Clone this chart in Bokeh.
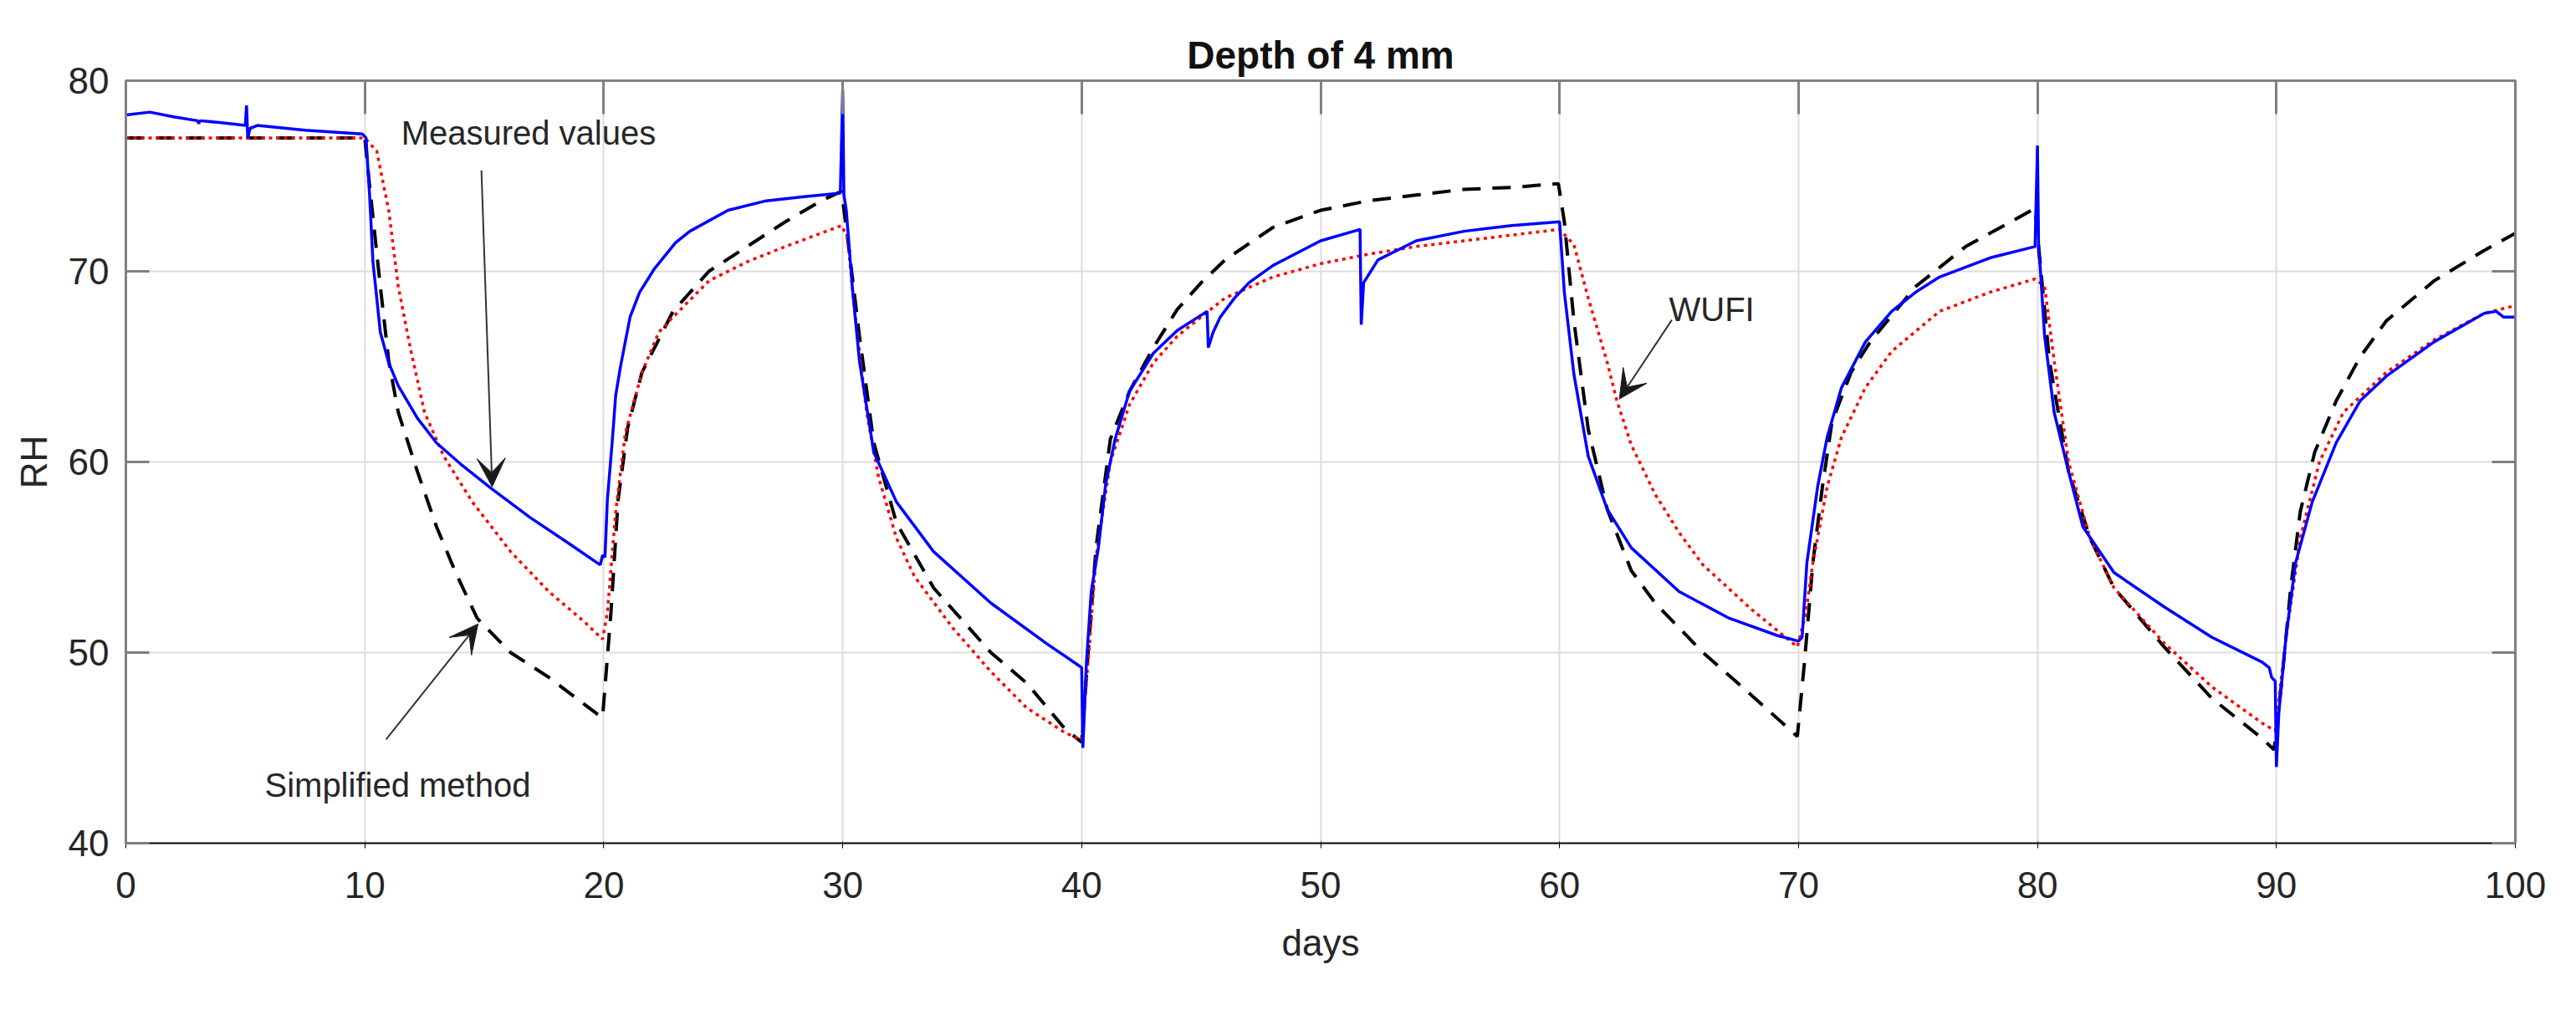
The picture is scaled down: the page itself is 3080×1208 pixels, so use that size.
from bokeh.plotting import figure
from bokeh.models import Range1d, LinearAxis, FixedTicker, Arrow, VeeHead, Label
from bokeh.embed import file_html
from bokeh.resources import INLINE

# ---------------- data ----------------
measured_days = [0, 1.0, 2.0, 3.0, 3.05, 3.1, 4.0, 5.0, 5.05, 5.1, 5.2, 5.5, 7.5, 9.9,
                 10.05, 10.2, 10.34, 10.65, 11.0, 11.4, 12.2, 13.0, 14.0, 15.3, 16.9, 18.45, 19.85,
                 19.95, 20.05, 20.15, 20.35, 20.5, 20.7, 21.1, 21.5, 22.1, 23.0, 23.6, 25.2, 26.8,
                 28.3, 29.9, 30.0, 30.05, 30.15, 30.4, 30.7, 31.3, 32.25, 33.8, 36.2, 38.5, 39.9,
                 40.0, 40.05, 40.1, 40.2, 40.4, 40.7, 41.0, 41.4, 42.0, 43.0, 44.0, 45.25, 45.3,
                 45.5, 45.8, 46.4, 47.0, 48.0, 50.0, 51.65, 51.7, 51.8, 52.4, 54.0, 56.0, 58.0,
                 60.0, 60.2, 60.6, 61.2, 62.0, 63.0, 65.0, 67.1, 69.1, 70.0, 70.15, 70.35, 70.8,
                 71.2, 71.8, 72.8, 73.9, 74.9, 75.9, 78.0, 79.9, 80.0, 80.05, 80.1, 80.3, 80.7,
                 81.3, 81.9, 83.2, 85.3, 87.3, 89.4, 89.7, 89.8, 89.95, 90.0, 90.1, 90.4, 90.8,
                 91.5, 92.5, 93.5, 94.6, 96.6, 98.7, 99.2, 99.5, 100.0]
measured_rh = [78.2, 78.35, 78.1, 77.9, 77.75, 77.9, 77.8, 77.65, 78.7, 77.0, 77.5, 77.65, 77.4, 77.2,
               77.0, 74.0, 70.5, 66.8, 65.2, 64.0, 62.3, 61.0, 59.9, 58.6, 57.1, 55.8, 54.6,
               55.1, 55.0, 58.0, 61.0, 63.5, 65.0, 67.6, 68.9, 70.1, 71.5, 72.1, 73.2, 73.7,
               73.9, 74.1, 79.5, 74.0, 73.2, 69.2, 65.3, 60.5, 57.9, 55.3, 52.6, 50.5, 49.3,
               49.2, 45.0, 46.5, 49.5, 53.2, 55.5, 58.8, 61.2, 63.7, 65.7, 66.9, 67.9, 66.0,
               66.8, 67.6, 68.6, 69.4, 70.3, 71.6, 72.2, 67.2, 69.4, 70.6, 71.6, 72.1, 72.4,
               72.6, 68.9, 64.6, 60.3, 57.5, 55.5, 53.2, 51.8, 50.9, 50.6, 50.8, 54.7, 58.7,
               61.3, 63.9, 66.3, 67.9, 68.9, 69.7, 70.7, 71.3, 76.6, 71.0, 70.5, 66.6, 62.6,
               59.5, 56.6, 54.2, 52.4, 50.8, 49.5, 49.2, 48.7, 48.5, 44.0, 46.8, 50.8, 54.7,
               57.9, 61.0, 63.2, 64.5, 66.3, 67.8, 67.9, 67.6, 67.6]

wufi_days = [0, 10.0, 10.5, 11.0, 11.4, 11.9, 12.5, 13.3, 14.5, 16.1, 17.7, 19.2, 19.95,
             20.15, 20.5, 20.9, 21.6, 22.3, 22.9, 24.4, 26.0, 27.6, 29.95,
             30.2, 30.5, 31.0, 31.5, 32.25, 33.0, 34.6, 36.2, 37.7, 39.3, 40.0,
             40.3, 40.6, 40.9, 41.2, 42.0, 43.0, 44.0, 46.0, 48.0, 50.0, 52.0, 54.0, 56.0, 58.0, 60.0,
             60.6, 61.2, 62.0, 62.4, 63.0, 64.0, 65.0, 66.0, 68.0, 69.95,
             70.3, 70.6, 71.2, 71.8, 72.8, 73.9, 75.9, 78.0, 79.9,
             80.3, 80.7, 81.3, 82.2, 83.2, 85.3, 87.3, 89.4, 89.95,
             90.4, 91.0, 91.8, 92.8, 94.6, 96.6, 98.7, 100.0]
wufi_rh = [77.0, 77.0, 76.3, 73.2, 69.2, 66.0, 62.6, 60.3, 57.9, 55.3, 53.2, 51.6, 50.7,
           52.1, 57.4, 61.5, 64.7, 66.8, 67.6, 69.5, 70.5, 71.3, 72.4,
           71.8, 67.9, 62.6, 59.2, 56.0, 54.0, 51.3, 49.0, 47.1, 45.8, 45.4,
           50.0, 55.0, 57.5, 60.0, 63.0, 65.2, 66.6, 68.6, 69.7, 70.4, 70.9, 71.3, 71.6, 71.9, 72.2,
           71.4, 68.6, 65.2, 63.2, 60.9, 58.3, 56.3, 54.6, 52.3, 50.3,
           52.0, 54.7, 58.7, 61.3, 63.9, 65.8, 67.9, 68.9, 69.6,
           69.2, 65.3, 60.0, 56.0, 53.4, 50.5, 48.2, 46.3, 45.9,
           50.8, 56.0, 60.0, 62.6, 64.7, 66.4, 67.8, 68.2]

simplified_days = [0, 10.0, 10.2, 10.65, 11.0, 11.4, 12.2, 13.0, 13.8, 14.7, 16.1, 17.7, 19.7, 19.95,
                   20.3, 20.6, 21.0, 21.6, 22.9, 24.4, 26.0, 27.6, 29.1, 29.95,
                   30.2, 30.7, 31.3, 32.25, 33.8, 36.2, 37.7, 39.3, 40.0,
                   40.3, 40.6, 41.2, 42.0, 43.0, 44.0, 45.0, 46.0, 48.0, 50.0, 52.0, 54.0, 56.0, 58.0, 59.95,
                   60.2, 60.6, 61.2, 62.0, 63.0, 64.0, 66.0, 68.0, 69.95,
                   70.25, 70.6, 71.0, 71.4, 72.2, 73.0, 74.9, 77.0, 79.9,
                   80.5, 81.3, 82.2, 83.2, 85.3, 87.3, 89.4, 89.9,
                   90.2, 90.6, 91.0, 91.6, 92.5, 93.5, 94.6, 96.6, 98.7, 100.0]
simplified_rh = [77.0, 77.0, 74.5, 69.2, 65.3, 62.6, 59.5, 56.6, 54.2, 51.8, 50.0, 48.7, 46.8, 46.6,
                 52.1, 58.0, 61.8, 64.7, 67.9, 70.0, 71.3, 72.6, 73.7, 74.2,
                 71.8, 66.6, 61.0, 56.8, 53.4, 50.0, 48.4, 46.0, 45.3,
                 50.5, 55.5, 61.2, 63.7, 66.0, 68.0, 69.4, 70.6, 72.3, 73.2, 73.7, 74.0, 74.3, 74.4, 74.6,
                 72.6, 67.4, 61.7, 57.5, 54.3, 52.6, 50.0, 47.8, 45.6,
                 49.5, 54.7, 58.7, 62.1, 64.7, 66.3, 69.2, 71.3, 73.3,
                 65.3, 59.5, 56.0, 53.4, 50.3, 47.6, 45.5, 44.9,
                 48.2, 53.4, 57.4, 60.5, 63.2, 65.5, 67.4, 69.5, 71.1, 72.0]

x_ticks = [0, 10, 20, 30, 40, 50, 60, 70, 80, 90, 100]
y_ticks = [40, 50, 60, 70, 80]

title_text = "Depth of 4 mm"
x_label = "days"
y_label = "RH"

# ---------------- figure ----------------
FONT = "Liberation Sans"
TXT = "#262626"
AX = "#808080"

p = figure(width=3064, height=1192, output_backend="svg", toolbar_location=None,
           x_range=Range1d(0, 100), y_range=Range1d(40, 80),
           min_border_left=150, min_border_right=57, min_border_top=96, min_border_bottom=184)
p.background_fill_color = "white"
p.border_fill_color = "white"
p.outline_line_color = AX
p.outline_line_width = 3

p.title.text = title_text
p.title.align = "center"
p.title.text_font = FONT
p.title.text_font_style = "bold"
p.title.text_font_size = "46px"
p.title.text_color = "#111111"
p.title.standoff = 10

for ax in (p.xaxis[0], p.yaxis[0]):
    ax.major_label_text_font = FONT
    ax.major_label_text_font_size = "44px"
    ax.major_label_text_color = TXT
    ax.axis_label_text_font = FONT
    ax.axis_label_text_font_size = "44px"
    ax.axis_label_text_font_style = "normal"
    ax.axis_label_text_color = TXT

p.xaxis[0].ticker = FixedTicker(ticks=x_ticks)
p.yaxis[0].ticker = FixedTicker(ticks=y_ticks)
p.xaxis[0].axis_label = x_label
p.yaxis[0].axis_label = y_label
p.xaxis[0].major_label_standoff = 28
p.yaxis[0].major_label_standoff = 20
p.xaxis[0].axis_label_standoff = 26
p.yaxis[0].axis_label_standoff = 14

top_ax = LinearAxis(ticker=FixedTicker(ticks=x_ticks),
                    major_label_overrides={t: "" for t in x_ticks}, major_label_standoff=0)
right_ax = LinearAxis(ticker=FixedTicker(ticks=y_ticks),
                      major_label_overrides={t: "" for t in y_ticks}, major_label_standoff=0)
p.add_layout(top_ax, "above")
p.add_layout(right_ax, "right")

for ax in (p.xaxis[0], top_ax):
    ax.major_tick_in = 40
for ax in (p.yaxis[0], right_ax):
    ax.major_tick_in = 28
for ax in (p.xaxis[0], p.yaxis[0], top_ax, right_ax):
    ax.major_tick_out = 0
    ax.minor_tick_line_color = None
    ax.major_tick_line_color = AX
    ax.major_tick_line_width = 3
    ax.axis_line_color = AX
    ax.axis_line_width = 3

p.xgrid.ticker = FixedTicker(ticks=x_ticks)
p.ygrid.ticker = FixedTicker(ticks=y_ticks)
p.grid.grid_line_color = "#dddddd"
p.grid.grid_line_width = 2

# ---------------- series ----------------
p.line(simplified_days, simplified_rh, line_color="#000000", line_width=4, line_dash="22 14")
p.line(wufi_days, wufi_rh, line_color="#ff0000", line_width=3.5, line_dash="4 5")
p.line(measured_days, measured_rh, line_color="#0000ff", line_width=3.5)

# ---------------- annotations ----------------
def note(x, y, text):
    p.add_layout(Label(x=x, y=y, text=text, text_font=FONT, text_font_size="40px",
                       text_color=TXT, text_baseline="middle", text_align="left"))

def arrow(x0, y0, x1, y1):
    p.add_layout(Arrow(end=VeeHead(size=34, fill_color="#1a1a1a", line_color="#1a1a1a", line_width=1),
                       x_start=x0, y_start=y0, x_end=x1, y_end=y1,
                       line_color="#333333", line_width=2))

note(11.52, 77.24, "Measured values")
arrow(14.88, 75.3, 15.33, 58.7)
note(5.81, 43.07, "Simplified method")
arrow(10.89, 45.44, 14.74, 51.5)
note(64.58, 68.0, "WUFI")
arrow(64.7, 67.45, 62.5, 63.3)

open("out.html", "w").write(file_html(p, INLINE))
